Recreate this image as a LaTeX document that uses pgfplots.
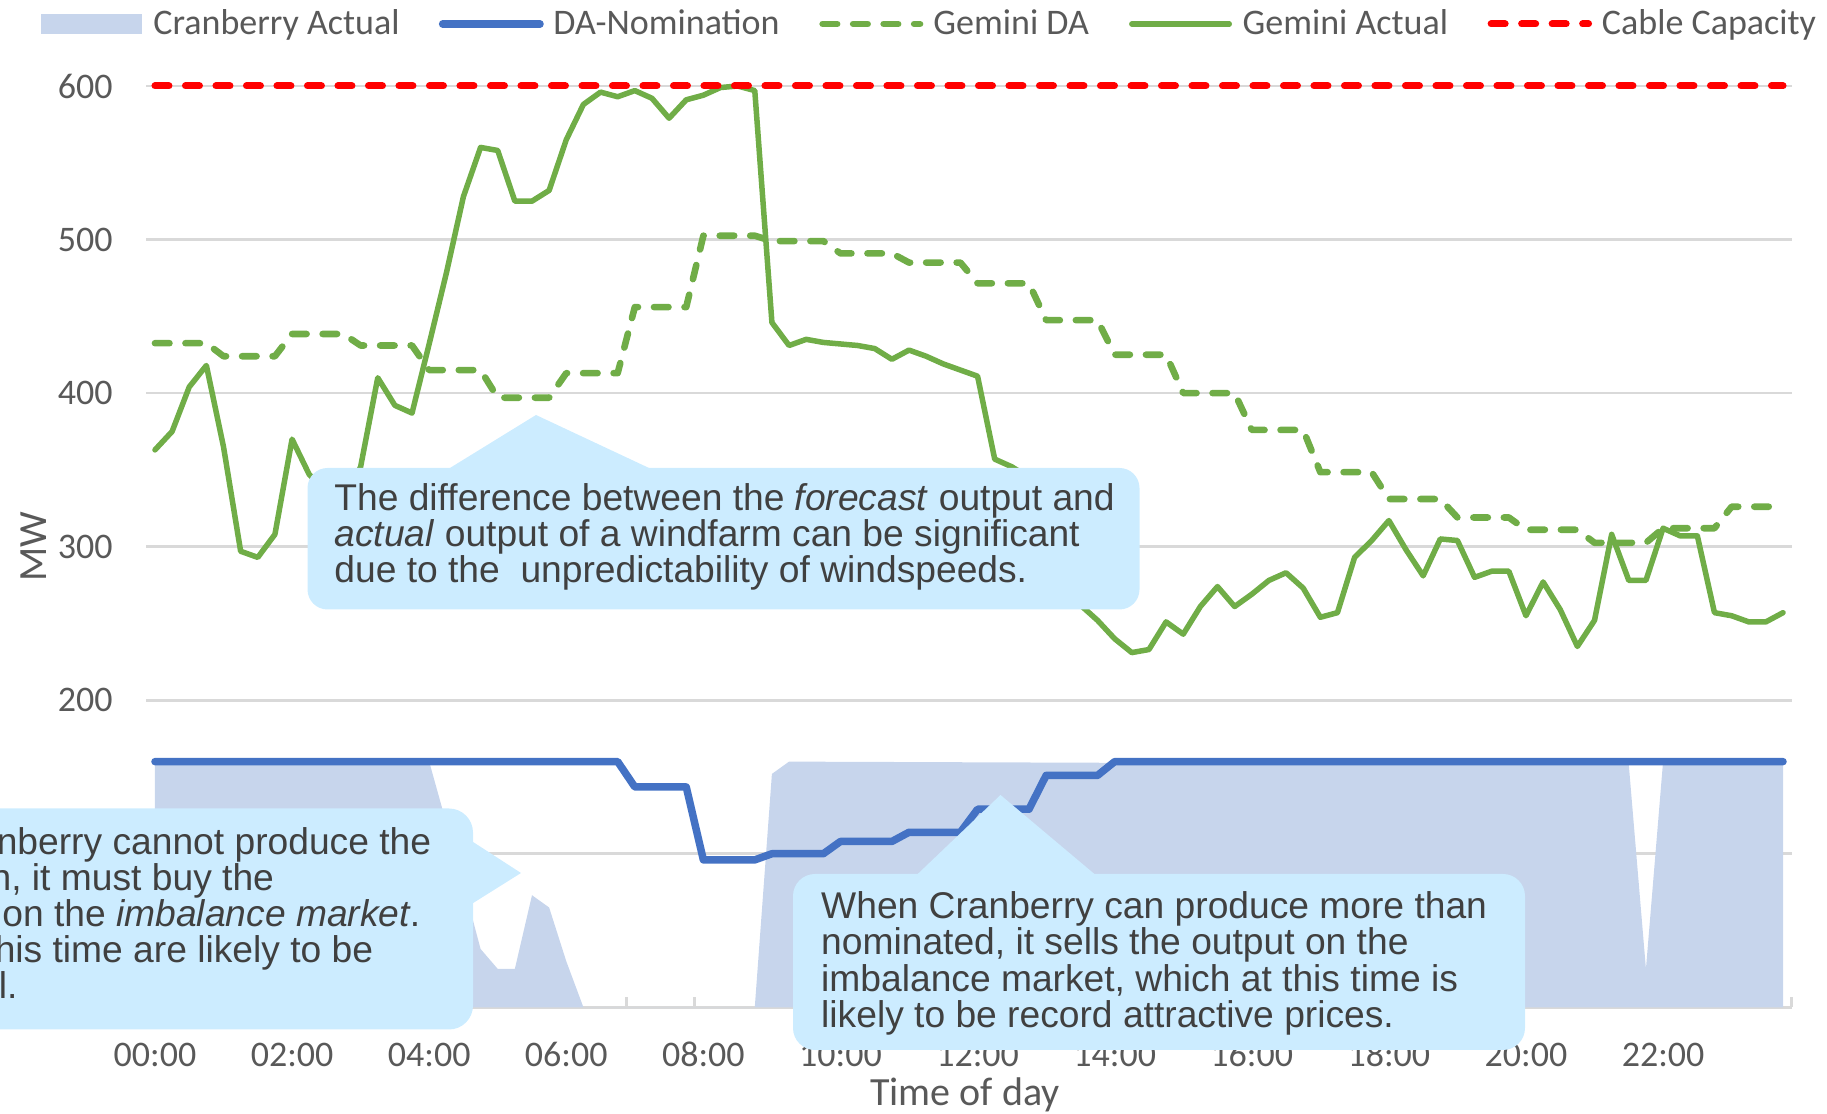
\documentclass[border=0pt]{standalone}
\usepackage{fontspec}
\setmainfont{Carlito}
\newfontfamily\callfont{Liberation Sans}
\usepackage{pgfplots}
\pgfplotsset{compat=1.18}
\definecolor{gridgray}{HTML}{D9D9D9}
\definecolor{txtgray}{HTML}{595959}
\definecolor{calltxt}{HTML}{404040}
\definecolor{callfill}{HTML}{CCECFF}
\definecolor{areafill}{HTML}{C7D5EC}
\definecolor{xblue}{HTML}{4472C4}
\definecolor{xgreen}{HTML}{70AD47}
\newcommand\cf{\callfont\fontsize{18.6}{18}\selectfont}
\pgfplotsset{
  lineleg/.style={legend image code/.code={\draw[##1, overlay] (1.5pt,0pt) -- (50.2pt,0pt); \path[draw=none, fill=none] (0pt,-1pt) rectangle (51.1pt,1pt);}},
  arealeg/.style={legend image code/.code={\fill[areafill, draw=none] (0pt,-5pt) rectangle (50.5pt,5pt);}},
}
\begin{document}
\begin{tikzpicture}
\path[use as bounding box] (0,0) rectangle (913.5pt,557pt);
\begin{axis}[
  at={(73.2pt,53.35pt)}, anchor=south west,
  width=822.6pt, height=460.65pt, scale only axis,
  xmin=-0.125, xmax=23.875, ymin=0, ymax=600,
  clip=false,
  axis x line*=bottom, axis y line*=left,
  x axis line style={draw=gridgray, line width=1.5pt},
  y axis line style={draw=none},
  ytick={0,100,...,600},
  ymajorgrids, major grid style={draw=gridgray, line width=1.4pt},
  xtick={0,2,...,22},
  xticklabels={00:00,02:00,04:00,06:00,08:00,10:00,12:00,14:00,16:00,18:00,20:00,22:00},
  minor xtick={-0.125,0.875,...,23.875},
  major tick length=0pt, minor tick length=5pt,
  tick align=inside,
  minor tick style={draw=gridgray, line width=1.5pt},
  ytick style={draw=none},
  /pgf/number format/assume math mode=true,
  tick label style={font=\fontsize{18}{18}\selectfont, text=txtgray},
  yticklabel style={anchor=east, inner sep=0pt, xshift=-16.7pt},
  xticklabel style={anchor=center, inner sep=0pt, yshift=-23.75pt},
  ylabel={MW},
  ylabel style={at={(axis description cs:-0.0684,0.5)}, anchor=center, font=\fontsize{20}{20}\selectfont, text=txtgray},
  xlabel={Time of day},
  xlabel style={at={(axis description cs:0.4976,-0.0948)}, anchor=center, font=\fontsize{20}{20}\selectfont, text=txtgray},
  legend style={at={(axis description cs:-0.0642,1.0673)}, anchor=west, draw=none, fill=none,
    inner sep=0pt, outer sep=0pt, font=\fontsize{18}{18}\selectfont, text=txtgray,
    /tikz/every even column/.append style={column sep=20pt},
    /tikz/every odd column/.append style={column sep=5.8pt},
    nodes={inner sep=0pt}},
  legend columns=5, legend cell align=left,
]
% Cranberry Actual
\addplot[draw=none, fill=areafill, arealeg]
  coordinates {(0,160) (4,160) (4.25,120) (4.5,80) (4.75,38) (5,25) (5.25,25) (5.5,73) (5.75,65)
  (6,30) (6.25,0) (8.75,0) (9,152) (9.25,160) (21.5,158) (21.75,25) (22,160) (23.75,160) (23.75,0) (0,0)} \closedcycle;
\addlegendentry{Cranberry Actual}
% DA-Nomination
\addplot[xblue, line width=3.75pt, line join=round, line cap=round, lineleg]
  coordinates {(0,160) (6.75,160) (7,143.5) (7.75,143.5) (8,96) (8.75,96) (9,100) (9.75,100)
  (10,108) (10.75,108) (11,114) (11.75,114) (12,129) (12.75,129) (13,151) (13.75,151) (14,160) (23.75,160)};
\addlegendentry{DA-Nomination}
% Gemini DA
\addplot[xgreen, line width=3.3pt, line join=round, line cap=round, dash pattern=on 7.25pt off 8pt, lineleg]
  coordinates {(0,432.5) (0.75,432.5) (1,424) (1.75,424) (2,438.5) (2.75,438.5) (3,431) (3.75,431)
  (4,415) (4.75,415) (5,397) (5.75,397) (6,413) (6.75,413) (7,456) (7.75,456) (8,502.5) (8.75,502.5)
  (9,499) (9.75,499) (10,491) (10.75,491) (11,485) (11.75,485) (12,471.5) (12.75,471.5)
  (13,447.5) (13.75,447.5) (14,425) (14.75,425) (15,400) (15.75,400) (16,376) (16.75,376)
  (17,348.5) (17.75,348.5) (18,331) (18.75,331) (19,319) (19.75,319) (20,311) (20.75,311)
  (21,302.5) (21.75,302.5) (22,312) (22.75,312) (23,326) (23.75,326)};
\addlegendentry{Gemini DA}
% Gemini Actual
\addplot[xgreen, line width=2.75pt, line join=round, line cap=round, lineleg]
  coordinates {(0,363) (0.25,375) (0.5,404) (0.75,418) (1,365) (1.25,297) (1.5,293) (1.75,308)
  (2,370) (2.25,347) (2.5,336) (2.75,330) (3,352) (3.25,410) (3.5,392) (3.75,387)
  (4,432) (4.25,478) (4.5,528) (4.75,560) (5,558) (5.25,525) (5.5,525) (5.75,532)
  (6,565) (6.25,588) (6.5,596) (6.75,593) (7,597) (7.25,592) (7.5,579) (7.75,591)
  (8,594) (8.25,599) (8.5,600) (8.75,597) (9,446) (9.25,431) (9.5,435) (9.75,433)
  (10,432) (10.25,431) (10.5,429) (10.75,422) (11,428) (11.25,424) (11.5,419) (11.75,415)
  (12,411) (12.25,357) (12.5,352) (12.75,345) (13,320) (13.25,295) (13.5,262) (13.75,252)
  (14,240) (14.25,231) (14.5,233) (14.75,251) (15,243) (15.25,261) (15.5,274) (15.75,261)
  (16,269) (16.25,278) (16.5,283) (16.75,273) (17,254) (17.25,257) (17.5,293) (17.75,304)
  (18,317) (18.25,298) (18.5,281) (18.75,305) (19,304) (19.25,280) (19.5,284) (19.75,284)
  (20,255) (20.25,277) (20.5,259) (20.75,235) (21,252) (21.25,308) (21.5,278) (21.75,278)
  (22,312) (22.25,307) (22.5,307) (22.75,257) (23,255) (23.25,251) (23.5,251) (23.75,257)};
\addlegendentry{Gemini Actual}
% Cable Capacity
\addplot[red, line width=3.5pt, line cap=round, dash pattern=on 7pt off 8.25pt, lineleg]
  coordinates {(0,600) (23.75,600)};
\addlegendentry{Cable Capacity}
\end{axis}
\begin{scope}[x=0.5pt, y=-0.5pt, shift={(0pt,557pt)}]
% top callout
\fill[callfill, rounded corners=10pt] (307.5,468) rectangle (1139.5,609.5);
\fill[callfill] (446.7,470) -- (536,415) -- (653.3,470) -- cycle;
\begin{scope}[every node/.style={anchor=base west, inner sep=0pt, font=\cf, text=calltxt}]
\node at (334,511) {The difference between the \textit{forecast} output and};
\node at (334,546.8) {\textit{actual} output of a windfarm can be significant};
\node at (334,582.6) {due to the \ unpredictability of windspeeds.};
% left callout
\fill[callfill, rounded corners=12pt] (-80,808.5) rectangle (473,1029.5);
\fill[callfill] (470,840) -- (521,873) -- (470,905) -- cycle;
\node at (-171,855) {When Cranberry cannot produce the};
\node at (-171,890.8) {nomination, it must buy the};
\node at (-171,926.6) {difference on the \textit{imbalance market}.};
\node at (-171,962.4) {Prices at this time are likely to be};
\node at (-171,998.2) {substantial.};
% right callout
\fill[callfill, rounded corners=11pt] (793,874) rectangle (1525,1050);
\fill[callfill] (915.6,876) -- (1000.5,795) -- (1096.8,876) -- cycle;
\node at (820.8,918.5) {When Cranberry can produce more than};
\node at (820.8,954.8) {nominated, it sells the output on the};
\node at (820.8,991.1) {imbalance market, which at this time is};
\node at (820.8,1027.4) {likely to be record attractive prices.};
\end{scope}
\end{scope}
\end{tikzpicture}
\end{document}
